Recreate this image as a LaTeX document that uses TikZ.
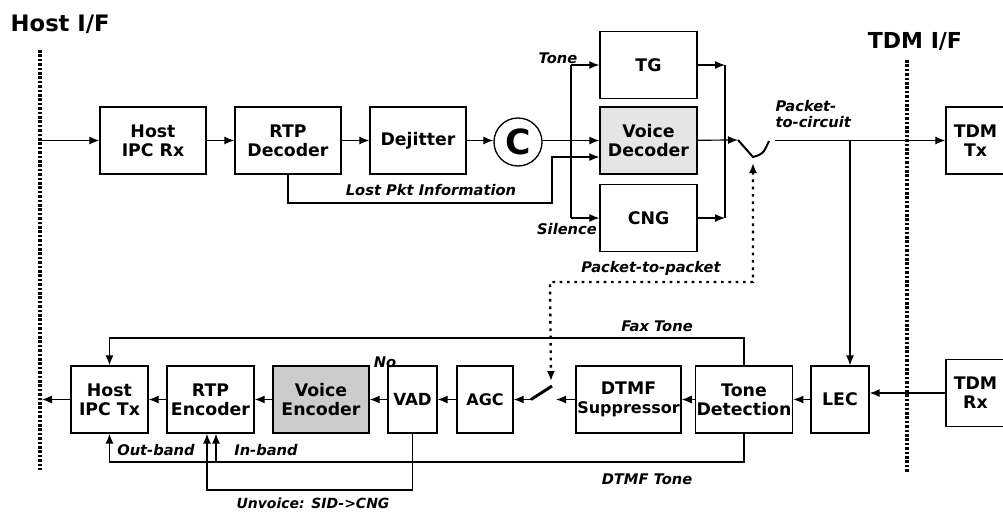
\documentclass[tikz,border=0pt]{standalone}
\usepackage{fontspec}
\setmainfont{DejaVu Sans}
\usetikzlibrary{arrows.meta}
\usetikzlibrary{calc}

\begin{document}
\begin{tikzpicture}[x=0.75pt, y=-0.75pt, >={Latex[length=7.5pt,width=6pt]}]
 \tikzstyle{blk} = [draw, line width=1pt, inner sep=1pt, minimum height=50.25pt, align=center, font=\fontsize{13}{14.5}\selectfont\bfseries];
 \tikzstyle{lbl} = [inner sep=1pt, font=\fontsize{11}{12}\selectfont\bfseries\itshape];
 \tikzstyle{C} = [color=black, line width=0.9pt];
 \tikzstyle{ifc} = [line width=2.4pt, dash pattern=on 2pt off 1.3pt];
 \tikzstyle{pkt} = [line width=1.8pt, dash pattern=on 2pt off 3.5pt];

 \useasboundingbox (0,0) rectangle (1003,514);

 % interfaces
 \node (hostif) [anchor=west, font=\fontsize{17}{17}\selectfont\bfseries] at (6,24) {Host I/F};
 \node (tdmif) [font=\fontsize{16.5}{17}\selectfont\bfseries] at (915,42) {TDM I/F};
 \coordinate (hifa) at (40,50);
 \coordinate (hifb) at (40,470);
 \coordinate (tifa) at (907,60);
 \coordinate (tifb) at (907,472);
 \draw [ifc] (hifa) -- (hifb);
 \draw [ifc] (tifa) -- (tifb);

 % packet-to-circuit path
 \node (hostrx) [blk, minimum width=79.5pt] at (153,140.5) {Host\\IPC Rx};
 \node (rtpdec) [blk, minimum width=79.5pt] at (288,140.5) {RTP\\Decoder};
 \node (dejitter) [blk, minimum width=72pt] at (418,140.5) {Dejitter};
 \node (cmix) [draw, circle, line width=1pt, minimum size=36pt, inner sep=0pt, font=\fontsize{26}{26}\selectfont\bfseries] at (518,142) {C};
 \node (tg) [blk, minimum width=72.75pt] at (648.5,65) {TG};
 \node (voicedec) [blk, fill=black!10, minimum width=72.75pt] at (648.5,140.5) {Voice\\Decoder};
 \node (cng) [blk, minimum width=72.75pt] at (648.5,218) {CNG};
 \node (tdmtx) [blk, minimum width=44.25pt] at (975.5,140.5) {TDM\\Tx};

 % circuit-to-packet path
 \node (hosttx) [blk, minimum width=57.75pt] at (109.5,399.5) {Host\\IPC Tx};
 \node (rtpenc) [blk, minimum width=65.25pt] at (210.5,399.5) {RTP\\Encoder};
 \node (voiceenc) [blk, fill=black!20, minimum width=72pt] at (321,399.5) {Voice\\Encoder};
 \node (vad) [blk, minimum width=36.75pt, font=\fontsize{12.5}{14}\selectfont\bfseries] at (412.5,399.5) {VAD};
 \node (agc) [blk, minimum width=42pt, font=\fontsize{12}{14}\selectfont\bfseries] at (485,399.5) {AGC};
 \node (dtmf) [blk, minimum width=72.75pt] at (628.5,399.5) {DTMF\\{\fontsize{12}{13}\selectfont Suppressor}};
 \node (tonedet) [blk, minimum width=72pt] at (744,399.5) {Tone\\Detection};
 \node (lec) [blk, minimum width=43.5pt] at (840,399.5) {LEC};
 \node (tdmrx) [blk, minimum width=44.25pt] at (975.5,393) {TDM\\Rx};

 % upper connections
 \coordinate (hin) at (40,140.5);
 \draw [C,->] (hin) -- (hostrx);
 \draw [C,->] (hostrx) -- (rtpdec);
 \draw [C,->] (rtpdec) -- (dejitter);
 \draw [C,->] (dejitter.east) -- (dejitter.east -| cmix.west);
 \draw [C,->] (cmix.east |- voicedec) -- (voicedec);

 \coordinate (split) at (571,140.5);
 \draw [C] (split |- tg) -- (split |- cng);
 \draw [C,->] (split |- tg) -- (tg);
 \draw [C,->] (split |- cng) -- (cng);

 \coordinate (lostc) at (552,203);
 \draw [C,->] (rtpdec.south) |- (lostc) |- ([yshift=-12.4pt]voicedec.west);

 \coordinate (comb) at (725,140.5);
 \draw [C,->] (tg) -- (tg -| comb);
 \draw [C,->] (cng) -- (cng -| comb);
 \draw [C] (tg -| comb) -- (cng -| comb);

 % output switch
 \coordinate (swa) at (738,140);
 \coordinate (swb) at (753,157);
 \coordinate (swc) at (769,141);
 \coordinate (swd) at (753,163);
 \coordinate (swo) at (775,140.5);
 \draw [C,->] (voicedec) -- (swa);
 \draw [line width=1.5pt] (swa) -- (swb) .. controls (763,154) .. (swc);
 \draw [C,->] (swo) -- (tdmtx);
 \coordinate (ptc) at (850,140.5);
 \draw [C,->] (ptc) -- (ptc |- lec.north);

 % packet-to-packet bypass
 \coordinate (pa) at (753,282);
 \coordinate (pb) at (550,282);
 \coordinate (swe) at (551,381);
 \draw [pkt,<->] (swd) -- (pa) -- (pb) -- (swe);

 % lower connections
 \coordinate (hout) at (42,399.5);
 \draw [C,->] (hosttx) -- (hout);
 \draw [C,->] (rtpenc) -- (hosttx);
 \draw [C,->] (voiceenc) -- (rtpenc);
 \draw [C,->] (vad) -- (voiceenc);
 \draw [C,->] (agc) -- (vad);
 \coordinate (lsa) at (531,399.5);
 \coordinate (lsb) at (552,386);
 \coordinate (lsc) at (556,399.5);
 \draw [C,->] (lsa) -- (agc);
 \draw [line width=2.2pt] (lsa) -- (lsb);
 \draw [C,->] (dtmf) -- (lsc);
 \draw [C,->] (tonedet) -- (dtmf);
 \draw [C,->] (lec) -- (tonedet);
 \draw [C,->] (tdmrx.west) -- (tdmrx.west -| lec.east);

 \coordinate (fax) at (744,338);
 \draw [C,->] (tonedet.north) |- (fax) -| (hosttx.north);
 \coordinate (dtone) at (744,462);
 \draw [C,->] (tonedet.south) |- (dtone) -| (hosttx.south);
 \coordinate (inb) at (216,462);
 \draw [C,->] (inb) -- (inb |- rtpenc.south);
 \coordinate (unv) at (207,490);
 \draw [C,->] (vad.south) |- (unv) -- (unv |- rtpenc.south);

 % labels
 \node (lostlbl) [lbl] at (431,190) {Lost Pkt Information};
 \node (tonelbl) [lbl] at (558,58) {Tone};
 \node (silencelbl) [lbl] at (567,229) {Silence};
 \node (ptclbl) [lbl, anchor=north west, align=left, font=\fontsize{11}{11.5}\selectfont\bfseries\itshape] at (774,99) {Packet-\\to-circuit};
 \node (ptplbl) [lbl] at (651,268) {Packet-to-packet};
 \node (faxlbl) [lbl] at (657,326) {Fax Tone};
 \node (dtmflbl) [lbl] at (647,479) {DTMF Tone};
 \node (nolbl) [lbl] at (385,362) {No};
 \node (outlbl) [lbl] at (156,450) {Out-band};
 \node (inlbl) [lbl] at (266,450) {In-band};
 \node (unvlbl) [lbl, font=\fontsize{10.5}{11}\selectfont\bfseries\itshape] at (313,503.5) {Unvoice: SID->CNG};
\end{tikzpicture}
\end{document}
